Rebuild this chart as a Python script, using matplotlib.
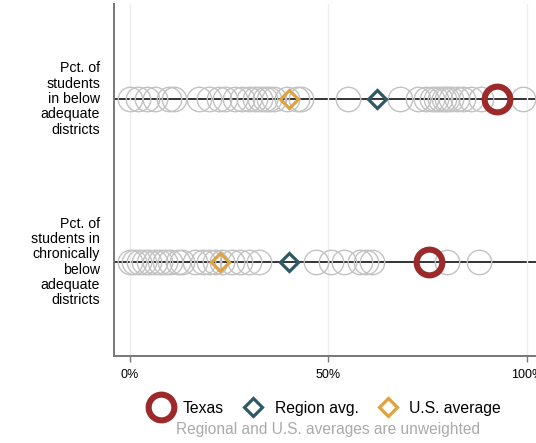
import matplotlib.pyplot as plt
from matplotlib.lines import Line2D

plt.rcParams["font.family"] = ["Liberation Sans", "DejaVu Sans"]

# -----------------------------------------------------------------------------
# DATA (in percent)
# -----------------------------------------------------------------------------
row_labels = [
    "Pct. of\nstudents\nin below\nadequate\ndistricts",
    "Pct. of\nstudents in\nchronically\nbelow\nadequate\ndistricts",
]

# individual districts / states shown as grey circles
below_adequate = [0, 2, 4.4, 6.4, 9.9, 11.2, 17.5, 20, 22.5, 24, 26.5, 28.3,
                  30, 31.6, 32.9, 34, 35, 36.4, 39.5, 42, 43, 55, 68, 72.5,
                  74.5, 76, 77, 78, 79, 80, 81, 82.5, 84, 86, 88.5, 99]
chronic_below = [0, 1.1, 2.4, 3.6, 4.9, 6.4, 7.7, 8.9, 10.2, 12, 13.2, 16.5,
                 18.3, 20, 21.5, 23.3, 25.8, 27.8, 30, 32.5, 46.8, 50.6, 54,
                 58, 59.5, 61, 80, 88]

texas = [92.5, 75.3]
region_avg = [62.3, 40.2]
us_avg = [40, 22.7]

x_ticks = [0, 50, 100]
x_tick_labels = ["0%", "50%", "100%"]

legend_labels = ["Texas", "Region avg.", "U.S. average"]
note = "Regional and U.S. averages are unweighted"

# colours
c_grey = "#c2c2c2"
c_texas = "#9c2a2b"
c_region = "#2f5965"
c_us = "#e1a13c"

# -----------------------------------------------------------------------------
# FIGURE
# -----------------------------------------------------------------------------
fig = plt.figure(figsize=(5.36, 4.43), dpi=100)
ax = fig.add_axes([114 / 536, 87 / 443, 422 / 536, 352 / 443])

rows = [2, 1]
groups = [below_adequate, chronic_below]

for y, vals in zip(rows, groups):
    ax.axhline(y, color="#111111", lw=1.2, zorder=1)
    ax.plot(vals, [y] * len(vals), ls="none", marker="o", ms=17.6,
            mfc="none", mec=c_grey, mew=1.0, zorder=2)

ax.plot(us_avg, rows, ls="none", marker="D", ms=9.2, mfc="none",
        mec=c_us, mew=2.3, zorder=3)
ax.plot(region_avg, rows, ls="none", marker="D", ms=9.2, mfc="none",
        mec=c_region, mew=2.3, zorder=3)
ax.plot(texas, rows, ls="none", marker="o", ms=18.5, mfc="none",
        mec=c_texas, mew=4.4, zorder=4)

ax.set_xlim(-4, 102.3)
ax.set_ylim(0.423, 2.583)

ax.set_xticks(x_ticks)
ax.set_xticklabels(x_tick_labels, fontsize=9)
ax.set_yticks([])
ax.grid(True, axis="x", color="#eeeeee", lw=1.0, zorder=0)
ax.tick_params(axis="x", length=4, width=1, color="#777777", pad=5)

for side in ["top", "right"]:
    ax.spines[side].set_visible(False)
for side in ["left", "bottom"]:
    ax.spines[side].set_color("#777777")
    ax.spines[side].set_linewidth(1.4)

for y, lab in zip(rows, row_labels):
    ax.text(-7.5, y, lab, ha="right", va="center", fontsize=10.2,
            linespacing=1.12, transform=ax.transData)

handles = [
    Line2D([], [], ls="none", marker="o", ms=18.5, mfc="none", mec=c_texas, mew=4.4),
    Line2D([], [], ls="none", marker="D", ms=9.2, mfc="none", mec=c_region, mew=2.3),
    Line2D([], [], ls="none", marker="D", ms=9.2, mfc="none", mec=c_us, mew=2.3),
]
fig.legend(handles, legend_labels, ncol=3,
           loc="center", bbox_to_anchor=(0.604, 0.078), frameon=False,
           fontsize=11.3, handlelength=1.9, handletextpad=0.4, columnspacing=0.95)

fig.text(0.612, 0.03, note, ha="center", va="center", fontsize=11.2, color="#aaaaaa")

fig.savefig("out.png", dpi=100)
